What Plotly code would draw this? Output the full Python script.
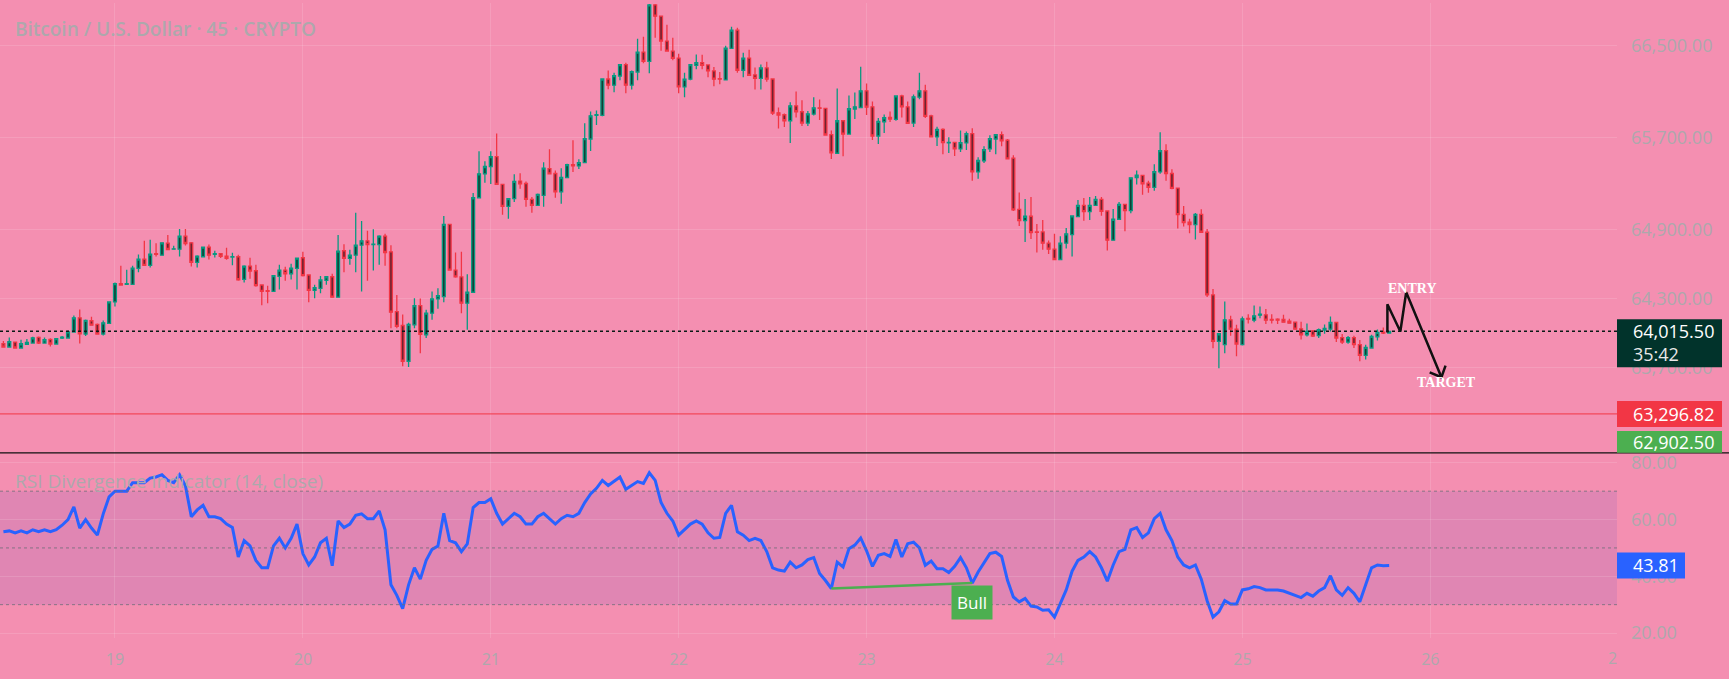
import pandas as pd
import plotly.graph_objects as go

# ---------------- data (45-minute candles, BTC/USD) ----------------
opens = [63907,63879,63922,63870,63902,63913,63962,63913,63945,63905,
         63957,63957,64009,64133,63991,64107,64075,63991,64084,64271,
         64430,64424,64424,64563,64643,64589,64690,64678,64782,64730,
         64730,64843,64785,64615,64664,64747,64684,64690,64669,64661,
         64664,64467,64583,64542,64418,64369,64363,64493,64548,64516,
         64563,64655,64505,64372,64389,64459,64490,64312,64716,64649,
         64678,64765,64802,64770,64770,64843,64707,64187,64066,63755,
         64072,64239,63985,64173,64297,64317,64946,64548,64488,64260,
         64355,65177,65385,65449,65535,65293,65102,65169,65322,65301,
         65163,65111,65197,65431,65388,65229,65353,65466,65454,65483,
         65688,65893,65893,66210,66156,66236,66335,66156,66271,66444,
         66363,66854,66756,66540,66453,66392,66141,66208,66329,66352,
         66332,66280,66213,66202,66476,66635,66286,66392,66245,66216,
         66306,66210,65916,65899,65847,65977,65925,65827,65905,65959,
         65954,65726,65564,65847,65731,65948,65962,66107,65968,65714,
         65838,65876,65858,66063,65968,65827,66052,66107,65890,65706,
         65772,65654,65659,65602,65654,65734,65402,65498,65602,65688,
         65726,65677,65521,65076,64978,65016,64880,64880,64782,64730,
         64640,64782,64857,65013,65111,65056,65111,65163,65062,64808,
         64990,65120,65065,65353,65371,65304,65267,65402,65587,65388,
         65261,65033,64964,64944,65033,64877,64332,63928,63899,64115,
         64034,63899,64127,64112,64156,64159,64118,64121,64118,64104,
         64095,64037,63985,64020,63977,64026,64034,64092,63960,63922,
         63960,63899,63806,63870,63968,64009,64000]
highs = [63931,63962,63925,63942,63948,63968,63971,63962,63954,63954,
         63974,64023,64153,64205,64118,64141,64084,64110,64277,64441,
         64586,64551,64586,64684,64802,64811,64782,64791,64854,64759,
         64906,64906,64793,64678,64750,64770,64716,64692,64742,64698,
         64681,64589,64655,64594,64421,64412,64505,64594,64577,64603,
         64658,64707,64508,64421,64496,64496,64516,64854,64773,64724,
         65047,64975,64889,64903,64851,64863,64765,64332,64161,64090,
         64303,64300,64202,64361,64389,65019,64952,64701,64707,64511,
         65218,65581,65495,65581,65737,65296,65174,65382,65391,65319,
         65183,65215,65486,65599,65414,65434,65472,65677,65512,65824,
         65928,65936,66213,66283,66265,66340,66352,66283,66560,66577,
         66863,66863,66762,66681,66568,66430,66265,66340,66424,66421,
         66335,66314,66271,66499,66664,66655,66439,66464,66309,66335,
         66361,66213,65962,65910,66008,66101,66026,65931,66052,66032,
         65959,65763,66127,65850,66066,66092,66317,66170,66014,65870,
         65902,65928,66069,66072,66014,66075,66265,66161,65899,65795,
         65781,65703,65665,65763,65754,65781,65529,65625,65720,65729,
         65754,65688,65547,65223,65166,65183,64949,64984,64805,64863,
         64843,64915,65024,65157,65174,65183,65192,65183,65068,65079,
         65140,65123,65356,65414,65371,65325,65469,65746,65642,65425,
         65267,65105,64995,65045,65076,64906,64384,63999,64274,64150,
         64072,64144,64164,64239,64231,64210,64164,64130,64159,64124,
         64101,64098,64083,64026,64040,64075,64144,64092,63991,63974,
         63977,63939,63899,63985,64032,64049,64017]
lows = [63876,63879,63870,63870,63896,63910,63905,63910,63884,63902,
        63948,63954,64006,63910,63974,64066,63988,63980,64078,64231,
        64412,64421,64421,64528,64586,64571,64667,64675,64724,64727,
        64667,64762,64580,64571,64658,64641,64658,64652,64638,64589,
        64456,64441,64473,64404,64242,64260,64361,64378,64456,64467,
        64378,64493,64268,64303,64346,64421,64309,64309,64528,64594,
        64528,64361,64456,64545,64594,64586,64043,64043,63711,63705,
        64043,63824,63957,64115,64211,64268,64542,64482,64173,64029,
        64352,65174,65307,65296,65290,65030,64995,65140,65255,65099,
        65047,65108,65099,65382,65177,65125,65350,65400,65428,65480,
        65584,65809,65887,66121,66095,66199,66086,66118,66199,66346,
        66260,66568,66456,66447,66372,66086,66052,66199,66294,66294,
        66225,66147,66164,66199,66473,66265,66225,66239,66118,66118,
        66187,65896,65780,65792,65654,65876,65801,65801,65893,65853,
        65720,65515,65558,65538,65729,65861,65959,65896,65679,65645,
        65740,65835,65847,65876,65818,65792,66034,65870,65703,65628,
        65555,65567,65541,65576,65593,65325,65342,65480,65576,65555,
        65625,65512,65062,64932,64793,64819,64701,64724,64687,64640,
        64640,64736,64666,65007,64978,64984,65105,65021,64718,64805,
        64984,64886,65042,65293,65203,65221,65238,65385,65325,65252,
        64909,64926,64868,64814,64874,64314,63867,63694,63824,63977,
        63798,63893,64083,64095,64130,64078,64083,64078,64092,64083,
        64029,63945,63971,63965,63957,63994,64014,63922,63905,63907,
        63870,63755,63770,63864,63936,63991,63994]
closes = [63879,63925,63870,63907,63919,63959,63913,63942,63905,63951,
          63965,64011,64133,63994,64110,64069,63991,64089,64271,64430,
          64418,64430,64565,64643,64589,64687,64684,64785,64727,64733,
          64843,64779,64615,64669,64747,64678,64690,64667,64649,64664,
          64464,64583,64539,64412,64363,64363,64499,64548,64516,64565,
          64652,64499,64372,64395,64462,64490,64312,64713,64649,64678,
          64765,64802,64770,64773,64843,64701,64182,64058,63755,64075,
          64239,63988,64173,64297,64326,64946,64548,64488,64260,64355,
          65177,65385,65449,65535,65293,65102,65169,65319,65298,65163,
          65111,65206,65434,65385,65229,65353,65466,65454,65483,65691,
          65890,65899,66210,66156,66239,66335,66156,66274,66444,66363,
          66854,66756,66540,66453,66390,66141,66208,66335,66352,66329,
          66280,66208,66208,66479,66635,66286,66392,66242,66216,66306,
          66208,65913,65896,65847,65977,65925,65827,65907,65959,65954,
          65723,65567,65847,65731,65951,65968,66107,65965,65714,65841,
          65873,65861,66063,65968,65824,66055,66107,65884,65706,65772,
          65656,65659,65602,65656,65734,65402,65501,65596,65691,65726,
          65671,65515,65071,64978,65016,64874,64877,64782,64730,64640,
          64782,64863,65019,65111,65056,65111,65163,65059,64808,64990,
          65120,65065,65350,65374,65299,65267,65405,65587,65388,65258,
          65030,64961,64944,65033,64877,64332,63928,63994,64115,64034,
          63905,64124,64121,64150,64164,64112,64112,64112,64095,64086,
          64034,63985,64014,63974,64029,64040,64092,63957,63922,63960,
          63899,63806,63876,63971,64006,64000,64015.5]
rsi = [55.7,56.0,55.3,56.0,55.3,56.4,55.7,56.4,55.7,56.4,
       58.0,60.0,64.5,57.0,60.0,57.0,54.5,62.0,68.0,70.0,
       70.0,70.0,73.0,73.0,73.0,74.6,75.0,75.8,73.8,73.0,
       75.8,71.9,61.0,63.4,65.0,61.0,61.0,60.3,58.4,57.2,
       46.8,52.6,50.7,45.6,43.0,43.0,50.7,53.4,50.0,53.4,
       58.4,48.0,44.0,46.8,51.8,53.4,43.7,59.5,57.2,58.4,
       61.5,62.0,60.3,60.3,63.0,56.4,37.0,33.3,28.6,37.0,
       43.0,39.0,45.6,49.5,50.7,62.2,52.6,51.8,48.7,51.4,
       64.2,66.0,66.0,67.3,62.2,58.4,60.3,62.2,61.0,58.4,
       58.4,61.0,62.2,60.3,58.4,60.3,61.5,61.0,62.2,66.0,
       69.0,71.0,73.8,72.0,73.4,75.0,70.7,72.0,73.4,72.7,
       76.5,73.8,66.0,62.2,59.5,54.5,56.4,58.4,59.5,58.4,
       55.3,53.4,53.7,62.2,65.0,55.7,54.5,52.6,53.4,52.6,
       48.7,43.0,42.2,41.8,45.0,43.0,44.0,45.9,46.6,41.0,
       38.5,35.7,45.0,43.3,49.7,51.0,53.5,49.0,43.5,47.4,
       48.0,47.0,53.0,46.8,51.5,52.0,50.0,43.9,45.4,42.7,
       42.7,41.3,43.5,46.6,43.0,37.6,41.5,45.0,48.0,48.5,
       47.0,38.6,32.7,31.0,32.2,29.5,29.2,28.0,28.2,25.6,
       30.2,35.2,41.8,45.6,46.8,48.7,46.8,43.0,38.3,44.0,
       48.7,49.5,56.4,57.2,53.7,55.3,60.3,62.2,56.4,52.6,
       46.8,44.0,43.0,44.0,39.0,31.4,25.6,27.5,31.4,30.2,
       30.2,35.2,35.6,36.4,36.0,35.2,35.2,35.2,34.8,34.0,
       33.3,32.5,34.0,33.0,34.8,36.0,40.2,35.2,33.3,36.0,
       34.0,31.0,37.0,43.0,44.0,43.7,43.81]

day_ticks = ["2024-09-19", "2024-09-20", "2024-09-21", "2024-09-22",
             "2024-09-23", "2024-09-24", "2024-09-25", "2024-09-26"]
day_labels = ["19", "20", "21", "22", "23", "24", "25", "26"]
price_ticks = [66500, 65700, 64900, 64300, 63700]
rsi_ticks = [80, 60, 40, 20]

last_price = 64015.50
countdown = "35:42"
alert_price = 63296.82
low_price = 62902.50
divergence = (141, 165)       # candle indices of the bullish divergence
# user drawing (candle index, price)
zig_idx = [235.7, 235.7, 237.9, 238.9, 244.9]
zig_px = [64006, 64251, 64014, 64355, 63616]
head_idx = [242.9, 244.9, 245.6]
head_px = [63659, 63616, 63717]
entry_pt = (240.0, 64387)
target_pt = (245.8, 63567)

# ---------------- layout constants ----------------
W, H = 1729, 679
PLOT_R = 1617      # right edge of the panes
PLOT_B = 638       # bottom of rsi pane
SPLIT = 452        # pane separator (px from top)
split_paper = (PLOT_B - SPLIT) / PLOT_B

BG = "#F48FB1"
GRID = "rgba(255,255,255,0.13)"
TXT = "#ADA8AC"
FONT = "Open Sans"
UP, DOWN = "#089981", "#F23645"

times = pd.date_range("2024-09-18 09:45", periods=len(closes), freq="45min")
bar = pd.Timedelta(minutes=45)


def t(i):
    return times[0] + bar * i


fig = go.Figure()
fig.add_trace(go.Candlestick(
    x=times, open=opens, high=highs, low=lows, close=closes,
    increasing=dict(line=dict(color=UP, width=1.3), fillcolor="#123f35"),
    decreasing=dict(line=dict(color=DOWN, width=1.3), fillcolor="#6e2230"),
    whiskerwidth=0, hoverinfo="skip", showlegend=False, yaxis="y"))

fig.add_trace(go.Scatter(x=times, y=rsi, mode="lines", yaxis="y2",
                         line=dict(color="#2962FF", width=3), showlegend=False,
                         hoverinfo="skip"))
a, b = divergence
fig.add_trace(go.Scatter(x=[times[a], times[b]], y=[rsi[a], rsi[b]], mode="lines",
                         yaxis="y2", line=dict(color="#4CAF50", width=2.5),
                         showlegend=False, hoverinfo="skip"))

# drawing
fig.add_trace(go.Scatter(x=[t(i) for i in zig_idx], y=zig_px, mode="lines",
                         line=dict(color="#111111", width=2.5), yaxis="y",
                         showlegend=False, hoverinfo="skip"))
fig.add_trace(go.Scatter(x=[t(i) for i in head_idx], y=head_px, mode="lines",
                         line=dict(color="#111111", width=2.5), yaxis="y",
                         showlegend=False, hoverinfo="skip"))

shapes = [
    # rsi band
    dict(type="rect", xref="paper", x0=0, x1=1, yref="y2", y0=30, y1=70,
         fillcolor="rgba(126,87,194,0.16)", line=dict(width=0), layer="below"),
    dict(type="line", xref="paper", x0=0, x1=1, yref="y2", y0=70, y1=70,
         line=dict(color="rgba(110,110,120,0.8)", width=1, dash="dot")),
    dict(type="line", xref="paper", x0=0, x1=1, yref="y2", y0=50, y1=50,
         line=dict(color="rgba(110,110,120,0.8)", width=1, dash="dot")),
    dict(type="line", xref="paper", x0=0, x1=1, yref="y2", y0=30, y1=30,
         line=dict(color="rgba(110,110,120,0.8)", width=1, dash="dot")),
    # alert line and last price line
    dict(type="line", xref="paper", x0=0, x1=1, yref="y", y0=alert_price, y1=alert_price,
         line=dict(color=DOWN, width=1)),
    dict(type="line", xref="paper", x0=0, x1=1, yref="y", y0=last_price, y1=last_price,
         line=dict(color="#0b1a16", width=1.5, dash="dot")),
    # pane separator
    dict(type="line", xref="paper", x0=0, x1=W / PLOT_R, yref="paper",
         y0=split_paper, y1=split_paper, line=dict(color="#111111", width=1.3)),
    # price scale labels
    dict(type="rect", xref="paper", x0=1, x1=1722 / PLOT_R, yref="y", ysizemode="pixel",
         yanchor=last_price, y0=-36, y1=12, fillcolor="#01332B", line=dict(width=0)),
    dict(type="rect", xref="paper", x0=1, x1=1722 / PLOT_R, yref="y", ysizemode="pixel",
         yanchor=alert_price, y0=-13, y1=13, fillcolor=DOWN, line=dict(width=0)),
    dict(type="rect", xref="paper", x0=1, x1=1722 / PLOT_R, yref="paper",
         y0=split_paper, y1=split_paper + 22 / PLOT_B, fillcolor="#4CAF50", line=dict(width=0)),
    dict(type="rect", xref="paper", x0=1, x1=1685 / PLOT_R, yref="y2", ysizemode="pixel",
         yanchor=rsi[-1], y0=-13, y1=13, fillcolor="#2962FF", line=dict(width=0)),
]

lx = 1631 / PLOT_R
LBL = 18
ann = [
    dict(text="Bitcoin / U.S. Dollar · 45 · CRYPTO", xref="paper", yref="paper",
         x=13 / PLOT_R, y=1 - 26 / PLOT_B, xanchor="left", yanchor="middle", showarrow=False,
         font=dict(family=FONT, size=19, color=TXT, weight=600)),
    dict(text="RSI Divergence Indicator (14, close)", xref="paper", yref="paper",
         x=13 / PLOT_R, y=(PLOT_B - 480) / PLOT_B, xanchor="left", yanchor="middle",
         showarrow=False, font=dict(family=FONT, size=19, color=TXT)),
    dict(text=f"{last_price:,.2f}", xref="paper", yref="y", x=lx, y=last_price,
         xanchor="left", yanchor="middle", showarrow=False,
         font=dict(family=FONT, size=LBL, color="white")),
    dict(text=countdown, xref="paper", yref="y", x=lx, y=last_price, yshift=-23,
         xanchor="left", yanchor="middle", showarrow=False,
         font=dict(family=FONT, size=LBL, color="#E8E8E8")),
    dict(text=f"{alert_price:,.2f}", xref="paper", yref="y", x=lx, y=alert_price,
         xanchor="left", yanchor="middle", showarrow=False,
         font=dict(family=FONT, size=LBL, color="white")),
    dict(text=f"{low_price:,.2f}", xref="paper", yref="paper", x=lx,
         y=split_paper + 11 / PLOT_B, xanchor="left", yanchor="middle", showarrow=False,
         font=dict(family=FONT, size=LBL, color="white")),
    dict(text=f"{rsi[-1]:.2f}", xref="paper", yref="y2", x=lx, y=rsi[-1],
         xanchor="left", yanchor="middle", showarrow=False,
         font=dict(family=FONT, size=LBL, color="white")),
    dict(text="Bull", xref="x", yref="y2", x=times[b], y=rsi[b], yshift=-2,
         xanchor="center", yanchor="top", showarrow=False, bgcolor="#4CAF50",
         borderpad=5, font=dict(family=FONT, size=17, color="white")),
    dict(text="ENTRY", xref="x", yref="y", x=t(entry_pt[0]), y=entry_pt[1],
         xanchor="center", yanchor="middle", showarrow=False,
         font=dict(family="Liberation Serif", size=14, color="white", weight="bold")),
    dict(text="TARGET", xref="x", yref="y", x=t(target_pt[0]), y=target_pt[1],
         xanchor="center", yanchor="middle", showarrow=False,
         font=dict(family="Liberation Serif", size=14, color="white", weight="bold")),
    dict(text="2", xref="paper", yref="paper", x=1612 / PLOT_R, y=-20 / PLOT_B,
         xanchor="center", yanchor="middle", showarrow=False,
         font=dict(family=FONT, size=16, color=TXT)),
]

fig.update_layout(
    width=W, height=H, paper_bgcolor=BG, plot_bgcolor=BG,
    margin=dict(l=0, r=W - PLOT_R, t=0, b=H - PLOT_B),
    showlegend=False, shapes=shapes, annotations=ann,
    font=dict(family=FONT, color=TXT),
    xaxis=dict(type="date", range=[t(-0.58), t(274.8)], anchor="y2",
               tickvals=day_ticks, ticktext=day_labels, showgrid=True, gridcolor=GRID,
               gridwidth=1, zeroline=False, showline=False, ticks="",
               ticklabelstandoff=10, tickfont=dict(family=FONT, size=16, color=TXT),
               rangeslider=dict(visible=False), fixedrange=True),
    yaxis=dict(domain=[split_paper, 1], range=[62958, 66871], side="right",
               tickvals=price_ticks, ticktext=[f"{v:,.2f}" for v in price_ticks],
               showgrid=True, gridcolor=GRID, zeroline=False, showline=False, ticks="",
               ticklabelstandoff=13, tickfont=dict(family=FONT, size=LBL, color=TXT)),
    yaxis2=dict(domain=[0, split_paper], range=[18.25, 83.5], side="right",
                tickvals=rsi_ticks, ticktext=[f"{v:.2f}" for v in rsi_ticks],
                showgrid=True, gridcolor=GRID, zeroline=False, showline=False, ticks="",
                ticklabelstandoff=13, tickfont=dict(family=FONT, size=LBL, color=TXT)),
)

fig.write_html("out.html")
